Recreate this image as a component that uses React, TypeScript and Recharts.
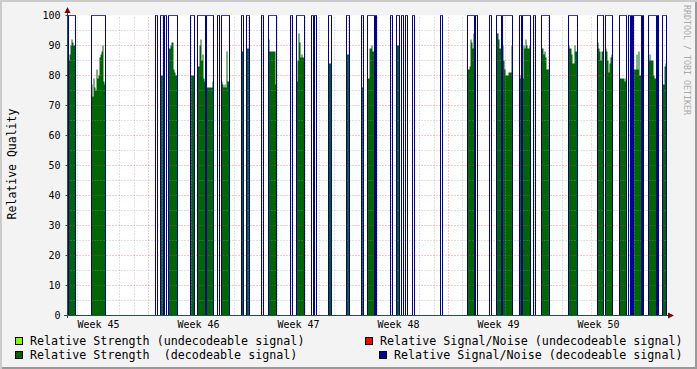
import { Area, CartesianGrid, ComposedChart, Line, ReferenceLine, XAxis, YAxis } from 'recharts'

// x axis is measured in slots of 1/100 week (about 1.7 h); the plot spans 6 weeks
const SLOTS = 600
const weekLabels = ['Week 45', 'Week 46', 'Week 47', 'Week 48', 'Week 49', 'Week 50']
const weekStarts = [81, 181, 281, 381, 481, 581]
const yTicks = [0, 10, 20, 30, 40, 50, 60, 70, 80, 90, 100]

// runs of decodeable signal: first slot and strength per slot (null = no strength shown)
const segStart = [
  1, 24, 88, 93, 97, 101, 123, 130, 139, 150, 154, 174, 179, 194, 201, 223, 229, 244, 247, 261,
  279, 294, 300, 308, 323, 329, 334, 338, 345, 373, 400, 408, 422, 429, 435, 452, 455, 466, 474,
  501, 530, 538, 552, 561, 564, 566, 575, 581, 590, 595,
]
const segStrength: (number | null)[][] = [
  [85, 87, 90, 92, 91, 90, 90],
  [77, 73, 79, 76, 75, 82, 79, 80, 86, 87, 88, 90, 78, 77],
  [null, null],
  [80, 80, 80],
  [null, null],
  [89, 89, 90, 91, 91, 82, 81, 80, 80],
  [80, 80, 80, 80],
  [83, 83, 90, 92, 85, 87, 79, 78],
  [76, 76, 76, 76, 76, 76, 78],
  [null, null],
  [78, 77, 76, 77, 76, 88, 78, 78],
  [88, 88],
  [89, 89, 89],
  [null, null],
  [92, 88, 88, 88, 88, 88, 88, 77],
  [null, null],
  [78, 85, 94, 91, 86, 87, 86, 86],
  [null, null],
  [null, null],
  [84, 84, 84],
  [87, 87, 87],
  [76, 76],
  [79, 79, 89, 89, 90, 88, 88],
  [null],
  [null, null],
  [90, 90, 90],
  [null, null],
  [null, null],
  [null, null],
  [null, null],
  [82, 82, 83, 92, 91, 89, 94],
  [null, null],
  [null, null],
  [94, 94, 92, 89, 89],
  [90, 85, 82, 80, 80, 80, 81, 81, 81, 90],
  [80, 79],
  [79, 90, 89, 92, 90, 89, 89, 90],
  [null, null],
  [89, 89, 87, 88, 86, 82, 82, 82],
  [90, 89, 89, 87, 84, 84, 90, 88, 88],
  [91, 89, 88, 85, 88, 88],
  [89, 88, 85, 81, 84, 86, 87],
  [79, 79, 79, 79, 79, 78, 79],
  [null, null],
  [null],
  [82, 82, 82, 87, 82, 88, 80, 80],
  [null],
  [85, 87, 85, 85, 85, 80, 79, 79],
  [null],
  [77, 77, 83, 84],
]

const rows: { slot: number; strength: number; snr: number }[] = []
for (let s = 0; s <= SLOTS; s++) rows.push({ slot: s, strength: 0, snr: 0 })
segStart.forEach((start, i) => {
  segStrength[i].forEach((v, j) => {
    const row = rows[start + j]
    row.snr = 100
    row.strength = v ?? 0
  })
})

const weekLines: number[] = []
const dayLines: number[] = []
for (const ws of [weekStarts[0] - 100, ...weekStarts]) {
  for (let d = 0; d < 7; d++) {
    const pos = Math.round(ws + (d * 100) / 7)
    if (pos <= 0 || pos >= SLOTS) continue
    if (d === 0) weekLines.push(pos)
    else dayLines.push(pos)
  }
}
const yMinor = yTicks.slice(0, -1).map((t) => t + 5)
const yMajor = yTicks.slice(1, -1)

const FONT = 'DejaVu Sans Mono'
const minorGrid = { stroke: '#9a9a9a', strokeOpacity: 0.6, strokeDasharray: '1 2' }
const majorGrid = { stroke: '#c85050', strokeOpacity: 0.6, strokeDasharray: '1 2' }

const legendItems = [
  { color: '#80ff00', label: 'Relative Strength (undecodeable signal)', left: 15, top: 337 },
  { color: '#ff0000', label: 'Relative Signal/Noise (undecodeable signal)', left: 365, top: 337 },
  { color: '#006600', label: 'Relative Strength  (decodeable signal)', left: 15, top: 351 },
  { color: '#000099', label: 'Relative Signal/Noise (decodeable signal)', left: 379, top: 351 },
]

export default function App() {
  return (
    <div
      style={{
        position: 'absolute',
        left: 0,
        top: 0,
        width: 697,
        height: 369,
        background: '#f3f3f3',
        boxShadow: 'inset 2px 2px 0 #cbcbcb, inset -2px -2px 0 #999999',
        fontFamily: FONT,
      }}
    >
      <div style={{ position: 'absolute', left: 0, top: 0 }}>
        <ComposedChart
          width={697}
          height={369}
          data={rows}
          margin={{ top: 15.5, right: 29.5, bottom: 33.5, left: 7.5 }}
        >
          <CartesianGrid horizontal={false} vertical={false} fill="#ffffff" />
          {dayLines.map((x) => (
            <ReferenceLine key={'d' + x} x={x} {...minorGrid} />
          ))}
          {yMinor.map((y) => (
            <ReferenceLine key={'m' + y} y={y} {...minorGrid} />
          ))}
          {weekLines.map((x) => (
            <ReferenceLine key={'w' + x} x={x} {...majorGrid} />
          ))}
          {yMajor.map((y) => (
            <ReferenceLine key={'M' + y} y={y} {...majorGrid} />
          ))}
          <XAxis
            dataKey="slot"
            type="number"
            domain={[0, SLOTS]}
            ticks={weekStarts.map((w) => w - 50)}
            tickFormatter={(v: number) => weekLabels[weekStarts.indexOf(v + 50)] ?? ''}
            tick={{ fontSize: 10, fill: '#000', fontFamily: FONT }}
            tickLine={false}
            tickSize={3}
            tickMargin={2}
            height={20}
            axisLine={{ stroke: '#2c4d43' }}
            interval={0}
          />
          <YAxis
            type="number"
            domain={[0, 100]}
            ticks={yTicks}
            width={60}
            tick={{ fontSize: 10, fill: '#000', fontFamily: FONT }}
            tickLine={{ stroke: '#2c4d43' }}
            tickSize={2}
            tickMargin={5}
            axisLine={{ stroke: '#2c4d43' }}
            interval={0}
          />
          <Area
            type="stepAfter"
            dataKey="strength"
            fill="#006600"
            fillOpacity={1}
            stroke="none"
            isAnimationActive={false}
          />
          <Line
            type="stepAfter"
            dataKey="snr"
            stroke="#000099"
            strokeWidth={1}
            dot={false}
            activeDot={false}
            isAnimationActive={false}
          />
        </ComposedChart>
      </div>
      <svg width={697} height={369} style={{ position: 'absolute', left: 0, top: 0 }}>
        <line x1={67.5} y1={8} x2={67.5} y2={318} stroke="#2c4d43" />
        <line x1={64} y1={315.5} x2={670} y2={315.5} stroke="#2c4d43" />
        <polygon points="67.5,7 64.5,13 70.5,13" fill="#7f0000" />
        <polygon points="674,315.5 668,312.5 668,318.5" fill="#7f0000" />
        <text
          transform="translate(16,164) rotate(-90)"
          textAnchor="middle"
          fontSize={11.5}
          fontFamily={FONT}
          fill="#000"
        >
          Relative Quality
        </text>
        <text
          transform="translate(684,5) rotate(90)"
          fontSize={8.3}
          fontFamily={FONT}
          fill="#aaaaaa"
        >
          RRDTOOL / TOBI OETIKER
        </text>
      </svg>
      {legendItems.map((item) => (
        <div
          key={item.label}
          style={{
            position: 'absolute',
            left: item.left,
            top: item.top - 3,
            height: 14,
            lineHeight: '14px',
            fontSize: 11.7,
            whiteSpace: 'pre',
            display: 'flex',
            alignItems: 'center',
          }}
        >
          <span
            style={{
              display: 'inline-block',
              width: 6,
              height: 6,
              background: item.color,
              border: '1px solid #000',
              marginRight: 7,
            }}
          />
          <span>{item.label}</span>
        </div>
      ))}
    </div>
  )
}
